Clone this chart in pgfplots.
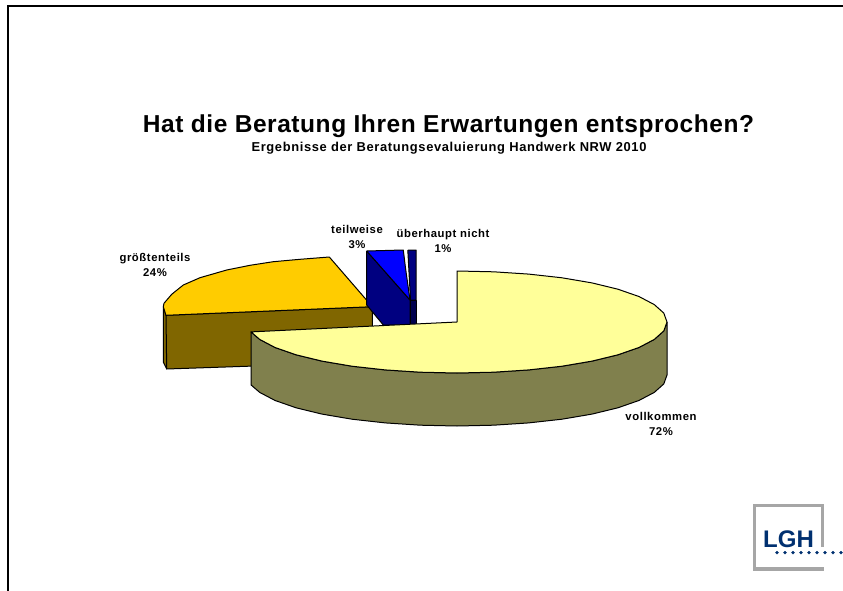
\documentclass[border=0pt]{standalone}
\usepackage{fontspec}
\setmainfont{Liberation Sans}
\newfontfamily\labfont[LetterSpace=5]{Liberation Sans}
\newfontfamily\titlefont[LetterSpace=2.3]{Liberation Sans}
\usepackage{pgfplots}
\pgfplotsset{compat=1.18}
\definecolor{pieyellow}{RGB}{255,255,153}
\definecolor{pieolive}{RGB}{128,128,77}
\definecolor{pieorange}{RGB}{255,204,0}
\definecolor{piebrown}{RGB}{128,102,0}
\definecolor{pieblue}{RGB}{0,0,255}
\definecolor{pienavy}{RGB}{0,0,128}
\definecolor{pieink}{RGB}{0,0,77}
\definecolor{lghgrey}{RGB}{166,166,166}
\definecolor{lghblue}{RGB}{0,48,112}
\tikzset{
    piece/.style={draw=black, line width=1pt, line join=round},
    lab/.style={font=\labfont\bfseries\fontsize{11.3}{13}\selectfont, anchor=base, inner sep=0pt},
}
\begin{document}
\begin{tikzpicture}
\begin{axis}[
    scale only axis,
    width=843pt,
    height=591pt,
    xmin=0, xmax=843,
    ymin=0, ymax=591,
    y dir=reverse,
    axis lines=none,
    ticks=none,
]

% page frame
\addplot[black, line width=2pt] coordinates {(8,591) (8,6) (843,6)};

% groesstenteils 24%
\addplot[piece, fill=piebrown] coordinates {
    (163.3,306.7) (166,315.3) (372.3,306.7) (372.3,362) (166.7,369) (163.3,362) (163.3,306.7)
};
\addplot[piece] coordinates {(166,315.3) (166.7,369)};
\addplot[piece, fill=pieorange] coordinates {
    (329.3,257) (300,259.3) (273.3,261.7) (250,265.3) (226.7,270) (200,277.7) (183.3,285)
    (171.7,294.3) (164,303.3) (163.3,306.7) (166,315.3) (372.3,306.7) (329.3,257)
};

% teilweise 3%
\addplot[piece, fill=pienavy] coordinates {
    (366.7,251) (410,300) (410,325) (383.3,325) (366.7,305) (366.7,251)
};
\addplot[piece, fill=pieblue] coordinates {
    (366.7,251) (403.3,250) (405.5,268) (410,300) (366.7,251)
};

% ueberhaupt nicht 1%
\addplot[piece, fill=pieink] coordinates {
    (410,300) (416,300) (416,325) (410,325) (410,300)
};
\addplot[piece, fill=pienavy] coordinates {
    (407.8,250) (416,250) (416,300) (410.5,300) (407.8,250)
};

% vollkommen 72%
\addplot[piece, fill=pieolive] coordinates {
    (667,322) (663.8,330.9) (654.3,339.4) (638.9,347.5) (617.9,354.8) (592,361.1) (562,366.2)
    (528.8,369.9) (493.5,372.2) (457,373) (420.5,372.2) (385.2,369.9) (352,366.2) (322,361.1)
    (296.1,354.8) (275.1,347.5) (259.7,339.4) (251,331.9)
    (251,384.9) (259.7,392.4) (275.1,400.5) (296.1,407.8) (322,414.1) (352,419.2) (385.2,422.9)
    (420.5,425.2) (457,426) (493.5,425.2) (528.8,422.9) (562,419.2) (592,414.1) (617.9,407.8)
    (638.9,400.5) (654.3,392.4) (663.8,383.9) (667,375) (667,322)
};
\addplot[piece, fill=pieyellow] coordinates {
    (457,322) (457,271) (493.5,271.8) (528.8,274.1) (562,277.8) (592,282.9) (617.9,289.2)
    (638.9,296.5) (654.3,304.6) (663.8,313.1) (667,322) (663.8,330.9) (654.3,339.4) (638.9,347.5)
    (617.9,354.8) (592,361.1) (562,366.2) (528.8,369.9) (493.5,372.2) (457,373) (420.5,372.2)
    (385.2,369.9) (352,366.2) (322,361.1) (296.1,354.8) (275.1,347.5) (259.7,339.4) (251,331.9)
    (457,322)
};

% LGH logo
\addplot[lghgrey, line width=3.4pt] coordinates {
    (822.3,547) (822.3,505.7) (754.4,505.7) (754.4,569) (824,569)
};
\addplot[only marks, mark=*, mark size=1.5pt, color=lghblue] coordinates {
    (777,552.7) (785,552.7) (793,552.7) (801,552.7) (809,552.7) (817,552.7) (825,552.7) (833,552.7) (841,552.7)
};
\node[anchor=base, font=\bfseries\fontsize{24}{26}\selectfont, text=lghblue, inner sep=0pt]
    at (axis cs:788.5,547) {LGH};

% titles
\node[anchor=base, inner sep=0pt, font=\titlefont\bfseries\fontsize{24.5}{27}\selectfont]
    at (axis cs:448.5,132) {Hat die Beratung Ihren Erwartungen entsprochen?};
\node[anchor=base, inner sep=0pt, font=\labfont\bfseries\fontsize{12.9}{15}\selectfont]
    at (axis cs:449,151) {Ergebnisse der Beratungsevaluierung Handwerk NRW 2010};

% data labels
\node[lab] at (axis cs:155,261) {größtenteils};
\node[lab] at (axis cs:155,276) {24\%};
\node[lab] at (axis cs:357,233) {teilweise};
\node[lab] at (axis cs:357,248) {3\%};
\node[lab] at (axis cs:443,237) {überhaupt nicht};
\node[lab] at (axis cs:443,252) {1\%};
\node[lab] at (axis cs:661,420) {vollkommen};
\node[lab] at (axis cs:661,435) {72\%};
\end{axis}
% keep the page at the full axis size
\path (0,0) rectangle (843pt,591pt);
\end{tikzpicture}
\end{document}
